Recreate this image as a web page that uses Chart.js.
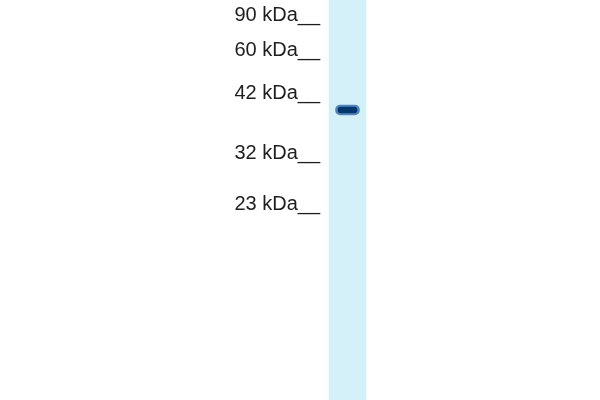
<!DOCTYPE html>
<html>
<head>
<meta charset="utf-8">
<script src="https://cdn.jsdelivr.net/npm/chart.js@4/dist/chart.umd.min.js"></script>
<style>
html,body{margin:0;padding:0;background:#fff;}
#wrap{width:600px;height:400px;}
</style>
</head>
<body>
<div id="wrap"><canvas id="blot"></canvas></div>
<script>
//marker ladder (kDa) and where each one ran on the membrane
var markerLabels = ["90 kDa", "60 kDa", "42 kDa", "32 kDa", "23 kDa"];
var markerPositions = [24, 59, 102, 162, 213];
//one lane, full membrane height
var laneNames = ["Lane 1"];
var laneSpan = [[0, 400]];
//the detected band
var bandSpan = [[107, 113]];
var bandHalo = [[105, 115]];

var ctx = document.getElementById("blot").getContext("2d");

var data = {
	labels: laneNames,
	datasets: [
		{
			//band core
			data: bandSpan,
			backgroundColor: "#02366f",
			borderSkipped: false,
			borderRadius: 3,
			barThickness: 19,
			grouped: false,
			order: 1
		},
		{
			//soft edge round the band
			data: bandHalo,
			backgroundColor: "rgba(25,85,155,0.7)",
			borderSkipped: false,
			borderRadius: 6,
			barThickness: 24,
			grouped: false,
			order: 2
		},
		{
			//membrane lane
			data: laneSpan,
			backgroundColor: "#d4f1fa",
			borderSkipped: false,
			barThickness: 37,
			grouped: false,
			order: 3
		}
	]
};

var blotChart = new Chart(ctx, {
	type: "bar",
	data: data,
	options: {
		responsive: true,
		maintainAspectRatio: false,
		animation: false,
		layout: { padding: { left: 0, top: 0, bottom: 0, right: 226 } },
		plugins: { legend: { display: false }, tooltip: { enabled: false } },
		scales: {
			x: { display: false },
			y: {
				reverse: true,
				min: 0,
				max: 400,
				grid: { display: false, drawTicks: false },
				border: { display: false },
				ticks: {
					padding: 1,
					labelOffset: -9,
					color: "#1e1e1e",
					font: { family: "'Liberation Sans', Arial, sans-serif", size: 20 },
					callback: function (value) {
						var i = markerPositions.indexOf(value);
						return i < 0 ? "" : markerLabels[i] + "__";
					}
				},
				afterBuildTicks: function (scale) {
					scale.ticks = markerPositions.map(function (v) { return { value: v }; });
				},
				afterFit: function (scale) {
					//axis ends where the lane area starts, no extra padding for labels
					scale.width = 321;
					scale.paddingTop = 0;
					scale.paddingBottom = 0;
				}
			}
		}
	}
});
</script>
</body>
</html>
